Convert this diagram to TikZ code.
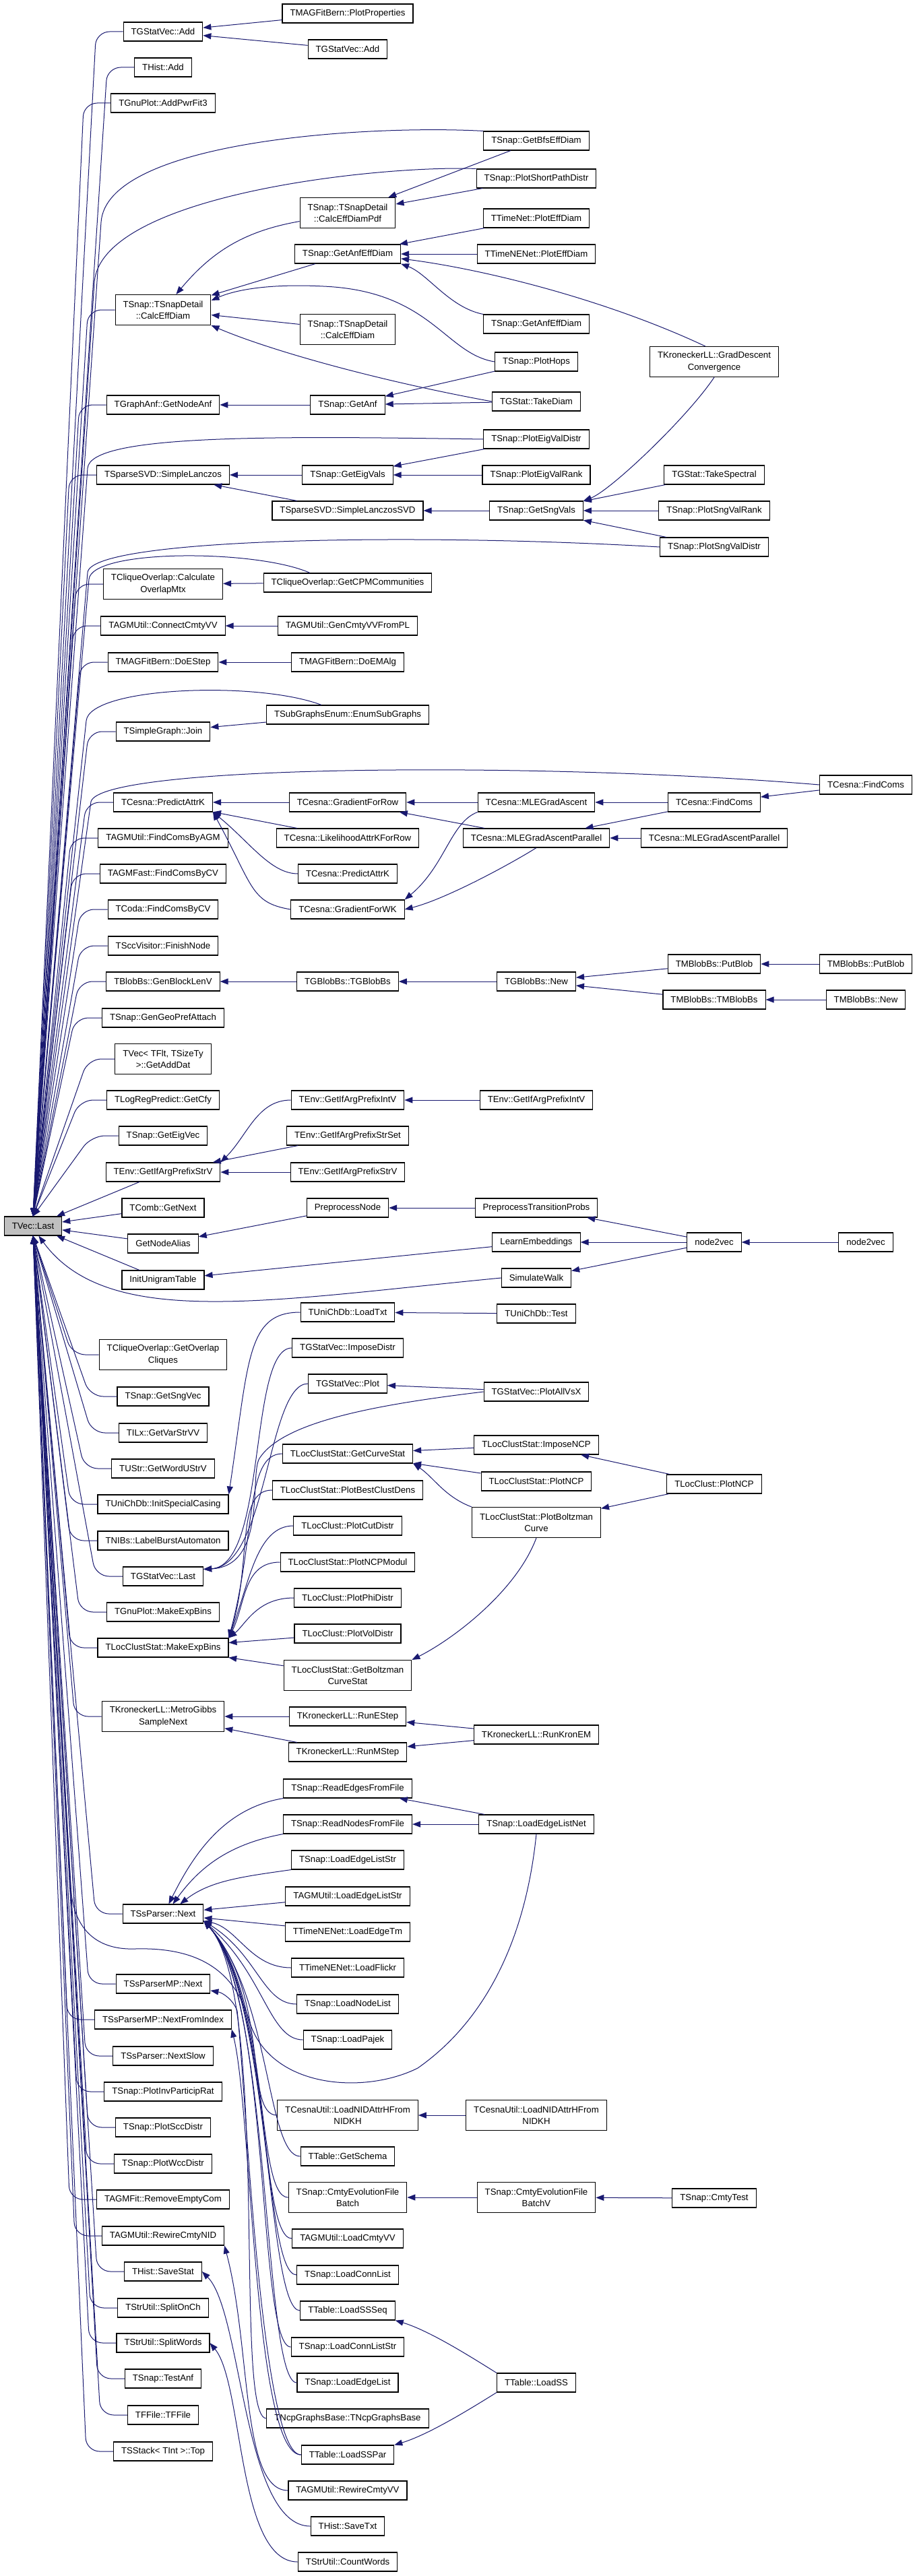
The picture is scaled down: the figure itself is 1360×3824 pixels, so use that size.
\documentclass[tikz,border=0pt]{standalone}
\usepackage{fontspec}
\setmainfont{Liberation Sans}
\usetikzlibrary{arrows.meta}
\definecolor{edgeblue}{RGB}{25,25,112}
\definecolor{lastgray}{RGB}{191,191,191}

\begin{document}
\begin{tikzpicture}[x=1pt, y=-1pt, font=\fontsize{13.2}{17.3}\selectfont,
  func/.style={draw=black, line width=1.1pt, fill=white, minimum height=28pt,
    inner xsep=11.5pt, inner ysep=3pt, align=center},
  func2/.style={func, minimum height=45pt},
  calls/.style={draw=edgeblue, line width=1pt, -{Triangle[length=12pt, width=9pt]}}]
  \path[fill=white, use as bounding box] (0,0) rectangle (1360,3824);

  \node[func, fill=lastgray] (last) at (49,1820) {TVec::Last};

  \foreach \nm/\y/\lab in {gsvAdd/47/TGStatVec::Add, hAdd/100/THist::Add, gpFit/153/TGnuPlot::AddPwrFit3,
      nodeAnf/601/TGraphAnf::GetNodeAnf, lanczos/705/TSparseSVD::SimpleLanczos,
      connCmty/929/TAGMUtil::ConnectCmtyVV, doEStep/983/TMAGFitBern::DoEStep, join/1086/TSimpleGraph::Join,
      predict/1191/TCesna::PredictAttrK, agm/1244/TAGMUtil::FindComsByAGM, fastCV/1297/TAGMFast::FindComsByCV,
      codaCV/1350/TCoda::FindComsByCV, finish/1404/TSccVisitor::FinishNode, blockLen/1457/TBlobBs::GenBlockLenV,
      geoPref/1511/TSnap::GenGeoPrefAttach, getCfy/1633/TLogRegPredict::GetCfy, eigVec/1686/TSnap::GetEigVec,
      strV/1740/TEnv::GetIfArgPrefixStrV, getNext/1793/TComb::GetNext, nodeAlias/1846/GetNodeAlias,
      unigram/1900/InitUnigramTable, sngVec/2073/TSnap::GetSngVec, varStr/2127/TILx::GetVarStrVV,
      wordU/2180/TUStr::GetWordUStrV, casing/2233/TUniChDb::InitSpecialCasing, burst/2287/TNIBs::LabelBurstAutomaton,
      gsvLast/2340/TGStatVec::Last, gpBins/2393/TGnuPlot::MakeExpBins, lcsBins/2446/TLocClustStat::MakeExpBins,
      ssNext/2841/TSsParser::Next, mpNext/2945/TSsParserMP::Next, mpIndex/2998/TSsParserMP::NextFromIndex,
      ssSlow/3052/TSsParser::NextSlow, invRat/3105/TSnap::PlotInvParticipRat, sccD/3158/TSnap::PlotSccDistr,
      wccD/3212/TSnap::PlotWccDistr, rmCom/3265/TAGMFit::RemoveEmptyCom, rewNID/3319/TAGMUtil::RewireCmtyNID,
      saveStat/3372/THist::SaveStat, splitCh/3426/TStrUtil::SplitOnCh, splitW/3478/TStrUtil::SplitWords,
      testAnf/3531/TSnap::TestAnf, ffile/3585/TFFile::TFFile, sTop/3639/TSStack< TInt >::Top}
    \node[func] (\nm) at (242,\y) {\lab};
  \node[func2] (ced) at (242,460) {TSnap::TSnapDetail\\::CalcEffDiam};
  \node[func2] (overlapMtx) at (242,867) {TCliqueOverlap::Calculate\\OverlapMtx};
  \node[func2] (addDat) at (242,1572) {TVec< TFlt, TSizeTy\\>::GetAddDat};
  \node[func2] (overlapCl) at (242,2011) {TCliqueOverlap::GetOverlap\\Cliques};
  \node[func2] (gibbs) at (242,2548) {TKroneckerLL::MetroGibbs\\SampleNext};

  \foreach \nm/\y/\lab in {plotProp/20/TMAGFitBern::PlotProperties, gsvAdd2/73/TGStatVec::Add,
      anfEff/377/TSnap::GetAnfEffDiam, getAnf/601/TSnap::GetAnf, eigVals/705/TSnap::GetEigVals,
      lanczosSVD/758/TSparseSVD::SimpleLanczosSVD, cpm/865/TCliqueOverlap::GetCPMCommunities,
      genCmty/929/TAGMUtil::GenCmtyVVFromPL, emAlg/983/TMAGFitBern::DoEMAlg, enumSub/1061/TSubGraphsEnum::EnumSubGraphs,
      gradRow/1191/TCesna::GradientForRow, likeRow/1244/TCesna::LikelihoodAttrKForRow, predict2/1297/TCesna::PredictAttrK,
      gradWK/1350/TCesna::GradientForWK, gblob/1457/TGBlobBs::TGBlobBs, intV/1633/TEnv::GetIfArgPrefixIntV,
      strSet/1686/TEnv::GetIfArgPrefixStrSet, strV2/1740/TEnv::GetIfArgPrefixStrV, prepNode/1793/PreprocessNode,
      loadTxt/1948/TUniChDb::LoadTxt, impDistr/2001/TGStatVec::ImposeDistr, gsvPlot/2054/TGStatVec::Plot,
      curveStat/2158/TLocClustStat::GetCurveStat, bestDens/2212/TLocClustStat::PlotBestClustDens,
      cutDistr/2265/TLocClust::PlotCutDistr, ncpModul/2319/TLocClustStat::PlotNCPModul,
      phiDistr/2372/TLocClust::PlotPhiDistr, volDistr/2425/TLocClust::PlotVolDistr,
      eStep/2548/TKroneckerLL::RunEStep, mStep/2601/TKroneckerLL::RunMStep, readEdges/2655/TSnap::ReadEdgesFromFile,
      readNodes/2708/TSnap::ReadNodesFromFile, edgeStr/2761/TSnap::LoadEdgeListStr,
      agmEdgeStr/2815/TAGMUtil::LoadEdgeListStr, edgeTm/2868/TTimeNENet::LoadEdgeTm, flickr/2921/TTimeNENet::LoadFlickr,
      nodeList/2975/TSnap::LoadNodeList, pajek/3028/TSnap::LoadPajek, schema/3201/TTable::GetSchema,
      loadCmty/3323/TAGMUtil::LoadCmtyVV, connList/3377/TSnap::LoadConnList, ssSeq/3430/TTable::LoadSSSeq,
      connStr/3484/TSnap::LoadConnListStr, edgeList/3537/TSnap::LoadEdgeList,
      ncpBase/3590/TNcpGraphsBase::TNcpGraphsBase, ssPar/3644/TTable::LoadSSPar, rewVV/3697/TAGMUtil::RewireCmtyVV,
      saveTxt/3750/THist::SaveTxt, countW/3803/TStrUtil::CountWords}
    \node[func] (\nm) at (516,\y) {\lab};
  \node[func2] (cedPdf) at (516,316) {TSnap::TSnapDetail\\::CalcEffDiamPdf};
  \node[func2] (ced2) at (516,489) {TSnap::TSnapDetail\\::CalcEffDiam};
  \node[func2] (boltzStat) at (516,2487) {TLocClustStat::GetBoltzman\\CurveStat};
  \node[func2] (nidAttr) at (516,3140) {TCesnaUtil::LoadNIDAttrHFrom\\NIDKH};
  \node[func2] (cmtyBatch) at (516,3262) {TSnap::CmtyEvolutionFile\\Batch};

  \foreach \nm/\y/\lab in {bfs/209/TSnap::GetBfsEffDiam, shortPath/265/TSnap::PlotShortPathDistr,
      tnEff/324/TTimeNet::PlotEffDiam, tnneEff/377/TTimeNENet::PlotEffDiam, anfEff2/481/TSnap::GetAnfEffDiam,
      hops/537/TSnap::PlotHops, takeDiam/596/TGStat::TakeDiam, eigDistr/652/TSnap::PlotEigValDistr,
      eigRank/705/TSnap::PlotEigValRank, sngVals/758/TSnap::GetSngVals, mleGrad/1191/TCesna::MLEGradAscent,
      mlePar/1244/TCesna::MLEGradAscentParallel, gblobNew/1457/TGBlobBs::New, intV2/1633/TEnv::GetIfArgPrefixIntV,
      transProbs/1793/PreprocessTransitionProbs, learn/1844/LearnEmbeddings, walk/1897/SimulateWalk,
      uniTest/1950/TUniChDb::Test, allVsX/2066/TGStatVec::PlotAllVsX, impNCP/2145/TLocClustStat::ImposeNCP,
      lcsNCP/2199/TLocClustStat::PlotNCP, kronEM/2575/TKroneckerLL::RunKronEM, edgeNet/2708/TSnap::LoadEdgeListNet,
      loadSS/3537/TTable::LoadSS}
    \node[func] (\nm) at (796,\y) {\lab};
  \node[func2] (boltzCurve) at (796,2260) {TLocClustStat::PlotBoltzman\\Curve};
  \node[func2] (nidAttr2) at (796,3140) {TCesnaUtil::LoadNIDAttrHFrom\\NIDKH};
  \node[func2] (batchV) at (796,3262) {TSnap::CmtyEvolutionFile\\BatchV};

  \foreach \nm/\y/\lab in {takeSpec/705/TGStat::TakeSpectral, sngRank/758/TSnap::PlotSngValRank,
      sngDistr/812/TSnap::PlotSngValDistr, findComs/1191/TCesna::FindComs, mlePar2/1244/TCesna::MLEGradAscentParallel,
      putBlob/1431/TMBlobBs::PutBlob, mblob/1484/TMBlobBs::TMBlobBs, n2v/1844/node2vec,
      lcNCP/2203/TLocClust::PlotNCP, cmtyTest/3263/TSnap::CmtyTest}
    \node[func] (\nm) at (1060,\y) {\lab};
  \node[func2] (gradDesc) at (1060,537) {TKroneckerLL::GradDescent\\Convergence};

  \foreach \nm/\y/\lab in {findComs2/1165/TCesna::FindComs, putBlob2/1431/TMBlobBs::PutBlob,
      mblobNew/1484/TMBlobBs::New, n2v2/1844/node2vec}
    \node[func] (\nm) at (1285,\y) {\lab};

  \foreach \nm in {gsvAdd, hAdd, gpFit, ced, nodeAnf, lanczos, overlapMtx, connCmty, doEStep, join, predict,
      agm, fastCV, codaCV, finish, blockLen, geoPref, addDat, getCfy, eigVec}
    \draw[calls, rounded corners=20pt] (\nm.west) -- ++(-40,0) -- (last.north);
  \foreach \nm in {overlapCl, sngVec, varStr, wordU, casing, burst, gsvLast, gpBins, lcsBins, gibbs, ssNext,
      mpNext, mpIndex, ssSlow, invRat, sccD, wccD, rmCom, rewNID, saveStat, splitCh, splitW, testAnf, ffile, sTop}
    \draw[calls, rounded corners=20pt] (\nm.west) -- ++(-40,0) -- (last.south);

  \foreach \a/\b in {plotProp/gsvAdd, gsvAdd2/gsvAdd, anfEff/ced, ced2/ced, getAnf/nodeAnf,
      eigVals/lanczos, lanczosSVD/lanczos, cpm/overlapMtx, genCmty/connCmty, emAlg/doEStep,
      enumSub/join, gradRow/predict, likeRow/predict, gblob/blockLen, strSet/strV, strV2/strV,
      prepNode/nodeAlias, volDistr/lcsBins, boltzStat/lcsBins, eStep/gibbs, mStep/gibbs,
      agmEdgeStr/ssNext, edgeTm/ssNext, bfs/cedPdf, shortPath/cedPdf, tnEff/anfEff, tnneEff/anfEff,
      hops/getAnf, takeDiam/getAnf, eigDistr/eigVals, eigRank/eigVals, sngVals/lanczosSVD,
      mleGrad/gradRow, mlePar/gradRow, gblobNew/gblob, intV2/intV, transProbs/prepNode, learn/unigram,
      uniTest/loadTxt, allVsX/gsvPlot, impNCP/curveStat, lcsNCP/curveStat, kronEM/eStep, kronEM/mStep,
      edgeNet/readEdges, edgeNet/readNodes, nidAttr2/nidAttr, batchV/cmtyBatch,
      takeSpec/sngVals, sngRank/sngVals, sngDistr/sngVals, findComs/mleGrad, findComs/mlePar,
      mlePar2/mlePar, putBlob/gblobNew, mblob/gblobNew, n2v/transProbs, n2v/learn, n2v/walk,
      lcNCP/impNCP, lcNCP/boltzCurve, cmtyTest/batchV, findComs2/findComs, putBlob2/putBlob,
      mblobNew/mblob, n2v2/n2v, getNext/last, nodeAlias/last, strV/last, unigram/last}
    \draw[calls] (\a) -- (\b);

  \draw[calls] (cedPdf) to[out=190, in=50] (ced);
  \draw[calls] (hops.west) .. controls (660,525) and (640,432) .. (480,425)
    .. controls (400,421) and (350,430) .. ([yshift=14pt]ced.east);
  \draw[calls] (takeDiam.west) .. controls (560,565) and (400,520) .. (ced.south east);
  \draw[calls] (anfEff2.north west) .. controls +(-50,-10) and +(40,15) .. (anfEff.south east);
  \draw[calls] (gradDesc.120) .. controls (900,445) and (720,400) .. (anfEff.-5);
  \draw[calls] (gradDesc.south) .. controls +(-40,60) and +(40,-15) .. (sngVals.north east);

  \draw[calls] (predict2.west) .. controls +(-40,0) and +(55,45) .. (predict.south east);
  \draw[calls] (gradWK.west) .. controls +(-60,-10) and +(60,110) .. (predict.south east);
  \draw[calls] (mleGrad.south west) .. controls +(-40,15) and +(60,-50) .. (gradWK.north east);
  \draw[calls] (mlePar.south) .. controls +(-40,25) and +(60,-15) .. (gradWK.east);
  \draw[calls] (intV.west) .. controls +(-50,0) and +(40,-40) .. (strV.north east);

  \draw[calls] (loadTxt.west) .. controls +(-80,0) and +(30,-200) .. (casing.north east);
  \draw[calls] (impDistr.west) .. controls +(-65,0) and +(95,-5) .. (gsvLast.10);
  \draw[calls] (gsvPlot.west) .. controls +(-60,0) and +(95,-5) .. (gsvLast.10);
  \draw[calls] (allVsX.west) .. controls (560,2085) and (420,2110) .. (385,2165)
    .. controls (370,2189) and (397,2325) .. (gsvLast.10);
  \foreach \nm/\cx/\cy in {curveStat/40/-150, bestDens/35/-110, cutDistr/30/-80, ncpModul/25/-50, phiDistr/25/-20}
    \draw[calls] (\nm.west) .. controls +(-55,0) and +(\cx,\cy) .. (lcsBins.north east);
  \draw[calls] (boltzCurve.north west) .. controls +(-40,-15) and +(30,20) .. (curveStat.south east);
  \draw[calls] (boltzCurve.south) .. controls +(-30,80) and +(60,-30) .. (boltzStat.north east);

  \draw[calls] (readEdges.south west) .. controls +(-90,15) and +(35,-70) .. (ssNext.60);
  \draw[calls] (readNodes.south west) .. controls +(-80,15) and +(40,-55) .. (ssNext.45);
  \draw[calls] (edgeStr.south west) .. controls +(-70,10) and +(45,-35) .. (ssNext.30);
  \draw[calls] (flickr.west) .. controls +(-60,0) and +(50,10) .. (ssNext.-10);
  \foreach \nm/\cx/\cy in {nodeList/80/50, pajek/90/80, nidAttr/100/110, schema/100/110, cmtyBatch/100/110,
      loadCmty/100/110, connList/100/110, ssSeq/100/110, connStr/100/110, edgeList/100/110, ncpBase/100/110}
    \draw[calls] (\nm.west) .. controls +(-50,0) and +(\cx,\cy) .. (ssNext.-10);
  \draw[calls] (ssPar.west) .. controls +(-60,0) and (365,3100) .. (352,2985)
    .. controls (346,2968) and (330,2958) .. (mpNext.-8);
  \draw[calls] (ssPar.west) .. controls +(-70,0) and +(30,120) .. (mpIndex.south east);
  \draw[calls] (rewVV.west) .. controls +(-70,0) and +(40,150) .. (rewNID.south east);
  \draw[calls] (saveTxt.west) .. controls +(-100,0) and +(60,60) .. (saveStat.east);
  \draw[calls] (countW.west) .. controls +(-90,0) and +(50,60) .. (splitW.east);
  \draw[calls] (loadSS.north west) .. controls +(-40,-25) and +(50,15) .. (ssSeq.south east);
  \draw[calls] (loadSS.south west) .. controls +(-40,25) and +(50,-15) .. (ssPar.north east);

  \draw[calls] (bfs.north west) .. controls (540,185) and (158,210) .. (150,330) -- (last.north);
  \draw[calls] (shortPath.north west) .. controls (560,245) and (148,290) .. (140,420) -- (last.north);
  \draw[calls] (eigDistr.west) .. controls (400,647) and (134,645) .. (130,695) -- (last.north);
  \draw[calls] (sngDistr.west) .. controls (600,790) and (134,800) .. (130,850) -- (last.north);
  \draw[calls] ([xshift=-56pt]cpm.north) .. controls (380,815) and (136,815) .. (132,860) -- (last.north);
  \draw[calls] ([xshift=-39pt]enumSub.north) .. controls (380,1010) and (133,1020) .. (128,1070) -- (last.north);
  \draw[calls] (findComs2.west) .. controls (800,1130) and (150,1135) .. (135,1190) -- (last.north);
  \draw[calls] (walk.west) .. controls (400,1930) and (160,1975) .. (last.-60);
  \draw[calls] (edgeNet.south) .. controls (780,2880) and (720,3000) .. (620,3070)
    .. controls (540,3110) and (400,3100) .. (370,3000) .. controls (350,2930) and (300,2890) .. (200,2893)
    .. controls (140,2895) and (108,2860) .. (105,2800) -- (last.south);
\end{tikzpicture}
\end{document}
